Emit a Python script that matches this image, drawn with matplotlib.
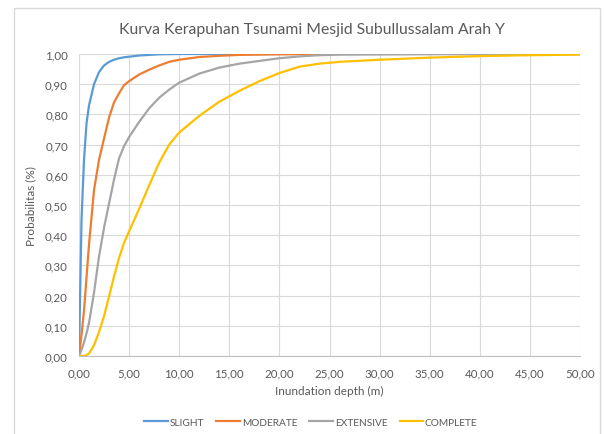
import numpy as np
import matplotlib
matplotlib.use("Agg")
import matplotlib.pyplot as plt
from matplotlib.patches import Rectangle
from matplotlib.ticker import FuncFormatter

plt.rcParams['font.family'] = ['Lato', 'DejaVu Sans']

# inundation depth (m)
depth = [0, 0.25, 0.5, 0.75, 1, 1.5, 2, 2.5, 3, 3.5, 4, 4.5, 5, 6, 7, 8, 9, 10,
         12, 14, 16, 18, 20, 22, 24, 26, 30, 35, 40, 45, 50]

slight = [0, 0.45, 0.65, 0.77, 0.83, 0.90, 0.94, 0.962, 0.974, 0.981, 0.986, 0.989,
          0.991, 0.995, 0.997, 0.999, 0.9995, 1.0, 1.0, 1.0, 1.0, 1.0, 1.0, 1.0,
          1.0, 1.0, 1.0, 1.0, 1.0, 1.0, 1.0]
moderate = [0, 0.07, 0.15, 0.26, 0.37, 0.55, 0.65, 0.72, 0.79, 0.84, 0.87, 0.897,
            0.91, 0.932, 0.948, 0.962, 0.974, 0.981, 0.99, 0.994, 0.997, 0.998, 0.999,
            0.9995, 1.0, 1.0, 1.0, 1.0, 1.0, 1.0, 1.0]
extensive = [0, 0.02, 0.045, 0.075, 0.11, 0.21, 0.33, 0.425, 0.505, 0.585, 0.655, 0.695,
             0.725, 0.775, 0.82, 0.855, 0.882, 0.905, 0.935, 0.955, 0.968, 0.977, 0.986,
             0.992, 0.996, 0.998, 0.999, 1.0, 1.0, 1.0, 1.0]
complete = [0, 0, 0, 0.003, 0.008, 0.036, 0.08, 0.132, 0.197, 0.264, 0.325, 0.375,
            0.413, 0.487, 0.565, 0.64, 0.70, 0.74, 0.795, 0.842, 0.878, 0.91, 0.937,
            0.958, 0.968, 0.974, 0.981, 0.988, 0.993, 0.996, 0.998]

labels = ['SLIGHT', 'MODERATE', 'EXTENSIVE', 'COMPLETE']
colors = ['#5B9BD5', '#ED7D31', '#A5A5A5', '#FFC000']
txt = '#595959'

W, H = 605, 435
fig = plt.figure(figsize=(W / 100, H / 100), dpi=100)
fig.patches.append(Rectangle((14 / W, -0.1), (600 - 14) / W, 1.1 - 9 / H,
                             transform=fig.transFigure, fill=False,
                             edgecolor='#D9D9D9', lw=1))

ax = fig.add_axes([79 / W, 1 - 357 / H, 501 / W, 302 / H])
for lab, ys, c in zip(labels, [slight, moderate, extensive, complete], colors):
    ax.plot(depth, ys, color=c, lw=1.6, label=lab, solid_joinstyle='round')

ax.set_xlim(0, 50)
ax.set_ylim(0, 1)
ax.set_xticks(np.arange(0, 51, 5))
ax.set_yticks(np.arange(0, 1.01, 0.1))
fmt = FuncFormatter(lambda v, p: f"{v:.2f}".replace('.', ','))
ax.xaxis.set_major_formatter(fmt)
ax.yaxis.set_major_formatter(fmt)
ax.grid(True, color='#D9D9D9', lw=0.8)
ax.set_axisbelow(True)
for s in ['top', 'right', 'left']:
    ax.spines[s].set_visible(False)
ax.spines['bottom'].set_color('#BFBFBF')
ax.tick_params(length=0, labelsize=8.3, colors=txt)
ax.tick_params(axis='y', pad=8)
ax.tick_params(axis='x', pad=8)

ax.set_xlabel('Inundation depth (m)', fontsize=8.5, color=txt, labelpad=5)
ax.set_ylabel('Probabilitas (%)', fontsize=8.5, color=txt, labelpad=6)
fig.text(312 / W, 1 - 30 / H, 'Kurva Kerapuhan Tsunami Mesjid Subullussalam Arah Y',
         ha='center', va='center', fontsize=11.3, color=txt)

fig.legend(loc='center', bbox_to_anchor=(311 / W, 1 - 423 / H), ncol=4,
           frameon=False, fontsize=7.3, handlelength=2.3, handletextpad=0.2,
           columnspacing=1.2, labelcolor=txt)

fig.savefig('out.png', dpi=100)
